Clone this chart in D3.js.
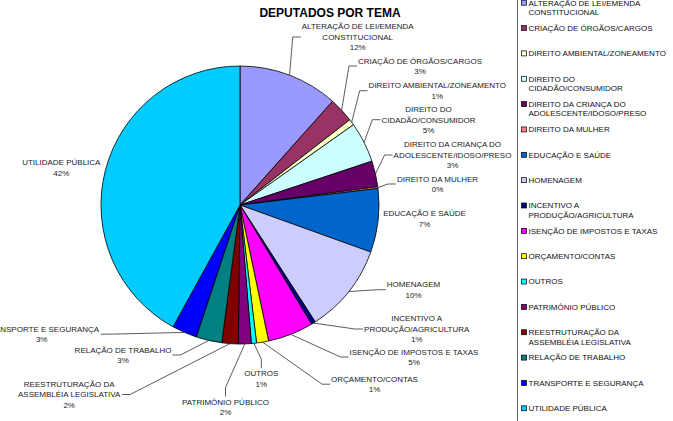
<!DOCTYPE html>
<html>
<head>
<meta charset="utf-8">
<script src="https://cdn.jsdelivr.net/npm/d3@7"></script>
<style>
  body { margin: 0; background: #fff; }
  svg { display: block; font-family: Arial, "Liberation Sans", sans-serif; }
</style>
</head>
<body>
<div id="chart"></div>
<script>
// categories (\n = line break used in labels and legend)
const temas = [
  "ALTERAÇÃO DE LEI/EMENDA\nCONSTITUCIONAL",
  "CRIAÇÃO DE ÓRGÃOS/CARGOS",
  "DIREITO AMBIENTAL/ZONEAMENTO",
  "DIREITO DO\nCIDADÃO/CONSUMIDOR",
  "DIREITO DA CRIANÇA DO\nADOLESCENTE/IDOSO/PRESO",
  "DIREITO DA MULHER",
  "EDUCAÇÃO E SAÚDE",
  "HOMENAGEM",
  "INCENTIVO A\nPRODUÇÃO/AGRICULTURA",
  "ISENÇÃO DE IMPOSTOS E TAXAS",
  "ORÇAMENTO/CONTAS",
  "OUTROS",
  "PATRIMÔNIO PÚBLICO",
  "REESTRUTURAÇÃO DA\nASSEMBLÉIA LEGISLATIVA",
  "RELAÇÃO DE TRABALHO",
  "TRANSPORTE E SEGURANÇA",
  "UTILIDADE PÚBLICA"
];
// share of each theme (%)
const percentuais = [11.6, 2.9, 0.7, 4.7, 3.0, 0.2, 7.4, 10.4, 0.5, 5.3, 1.4, 0.6, 1.5, 1.9, 3.0, 2.9, 42.0];
const cores = ["#9999FF", "#993366", "#FFFFCC", "#CCFFFF", "#660066", "#FF8080", "#0066CC", "#CCCCFF",
  "#000080", "#FF00FF", "#FFFF00", "#00FFFF", "#800080", "#800000", "#008080", "#0000FF", "#00CCFF"];

// label layout: centre of label box and which side the leader line meets
const labelPos = [
  [357.7, 37, "l"], [420, 66, "l"], [437.3, 90.7, "l"], [428.5, 119.7, "l"], [452.5, 155, "l"],
  [437.5, 184, "l"], [424.5, 218.7, null], [413.5, 289.7, "l"], [416.7, 329, "l"], [414, 357, "l"],
  [374.5, 384.2, "l"], [261.3, 378.7, "t"], [225.5, 407, "t"], [69.2, 394.5, "r"], [123, 355, "r"],
  [41.7, 334.2, "r"], [61.3, 167.5, null]
];

const width = 673, height = 421;
const cx = 240, cy = 205, r = 139;
const lineH = 10.6;

const svg = d3.select("#chart").append("svg")
  .attr("width", width).attr("height", height);

svg.append("text")
  .attr("x", 330).attr("y", 17.3)
  .attr("text-anchor", "middle")
  .attr("font-size", "12px").attr("font-weight", "bold")
  .attr("fill", "#000")
  .text("DEPUTADOS POR TEMA");

const data = temas.map((t, i) => ({ tema: t, valor: percentuais[i], cor: cores[i], i: i }));

const pie = d3.pie().sort(null).value(d => d.valor);
const arcs = pie(data);
const arc = d3.arc().innerRadius(0).outerRadius(r);

const g = svg.append("g").attr("transform", `translate(${cx},${cy})`);
g.selectAll("path.slice")
  .data(arcs)
  .join("path")
  .attr("class", "slice")
  .attr("d", arc)
  .attr("fill", d => d.data.cor)
  .attr("stroke", "#000")
  .attr("stroke-width", 0.8)
  .attr("stroke-linejoin", "round");

// labels
const labels = svg.append("g");
arcs.forEach((a, i) => {
  const [lx, ly, side] = labelPos[i];
  const lines = a.data.tema.split("\n").concat([Math.round(a.data.valor) + "%"]);
  const t = labels.append("text")
    .attr("text-anchor", "middle")
    .attr("font-size", "8px")
    .attr("fill", "#222");
  lines.forEach((s, k) => {
    t.append("tspan")
      .attr("x", lx)
      .attr("y", ly + (k - (lines.length - 1) / 2) * lineH)
      .attr("dy", "0.35em")
      .text(s);
  });
  if (!side) return;
  const bb = t.node().getBBox();
  const mid = (a.startAngle + a.endAngle) / 2;
  const px = cx + r * Math.sin(mid), py = cy - r * Math.cos(mid);
  let pts;
  if (side === "l") {
    const ex = bb.x - 1;
    pts = [[px, py], [ex - 8, ly], [ex, ly]];
  } else if (side === "r") {
    const ex = bb.x + bb.width + 1;
    pts = [[px, py], [ex + 8, ly], [ex, ly]];
  } else {
    const ey = bb.y - 1;
    pts = [[px, py], [lx, ey - 9], [lx, ey]];
  }
  labels.append("path")
    .attr("d", d3.line()(pts))
    .attr("fill", "none")
    .attr("stroke", "#333")
    .attr("stroke-width", 0.8);
});

// legend
const legend = svg.append("g");
legend.append("rect")
  .attr("x", 517.5).attr("y", -10)
  .attr("width", 200).attr("height", height + 20)
  .attr("fill", "#fff")
  .attr("stroke", "#666").attr("stroke-width", 1);

const ly = d3.scalePoint().domain(temas).range([2.7, 408.3]);
const items = legend.selectAll("g.item")
  .data(data)
  .join("g")
  .attr("class", "item")
  .attr("transform", d => `translate(521,${ly(d.tema)})`);

items.append("rect")
  .attr("x", 0.5).attr("y", -2.5)
  .attr("width", 5).attr("height", 5)
  .attr("fill", d => d.cor)
  .attr("stroke", "#000").attr("stroke-width", 0.7);

items.append("text")
  .attr("font-size", "8px")
  .attr("fill", "#111")
  .each(function (d) {
    d.tema.split("\n").forEach((s, k) => {
      d3.select(this).append("tspan")
        .attr("x", 7.5)
        .attr("y", k * 9.5)
        .attr("dy", "0.35em")
        .text(s);
    });
  });
</script>
</body>
</html>
